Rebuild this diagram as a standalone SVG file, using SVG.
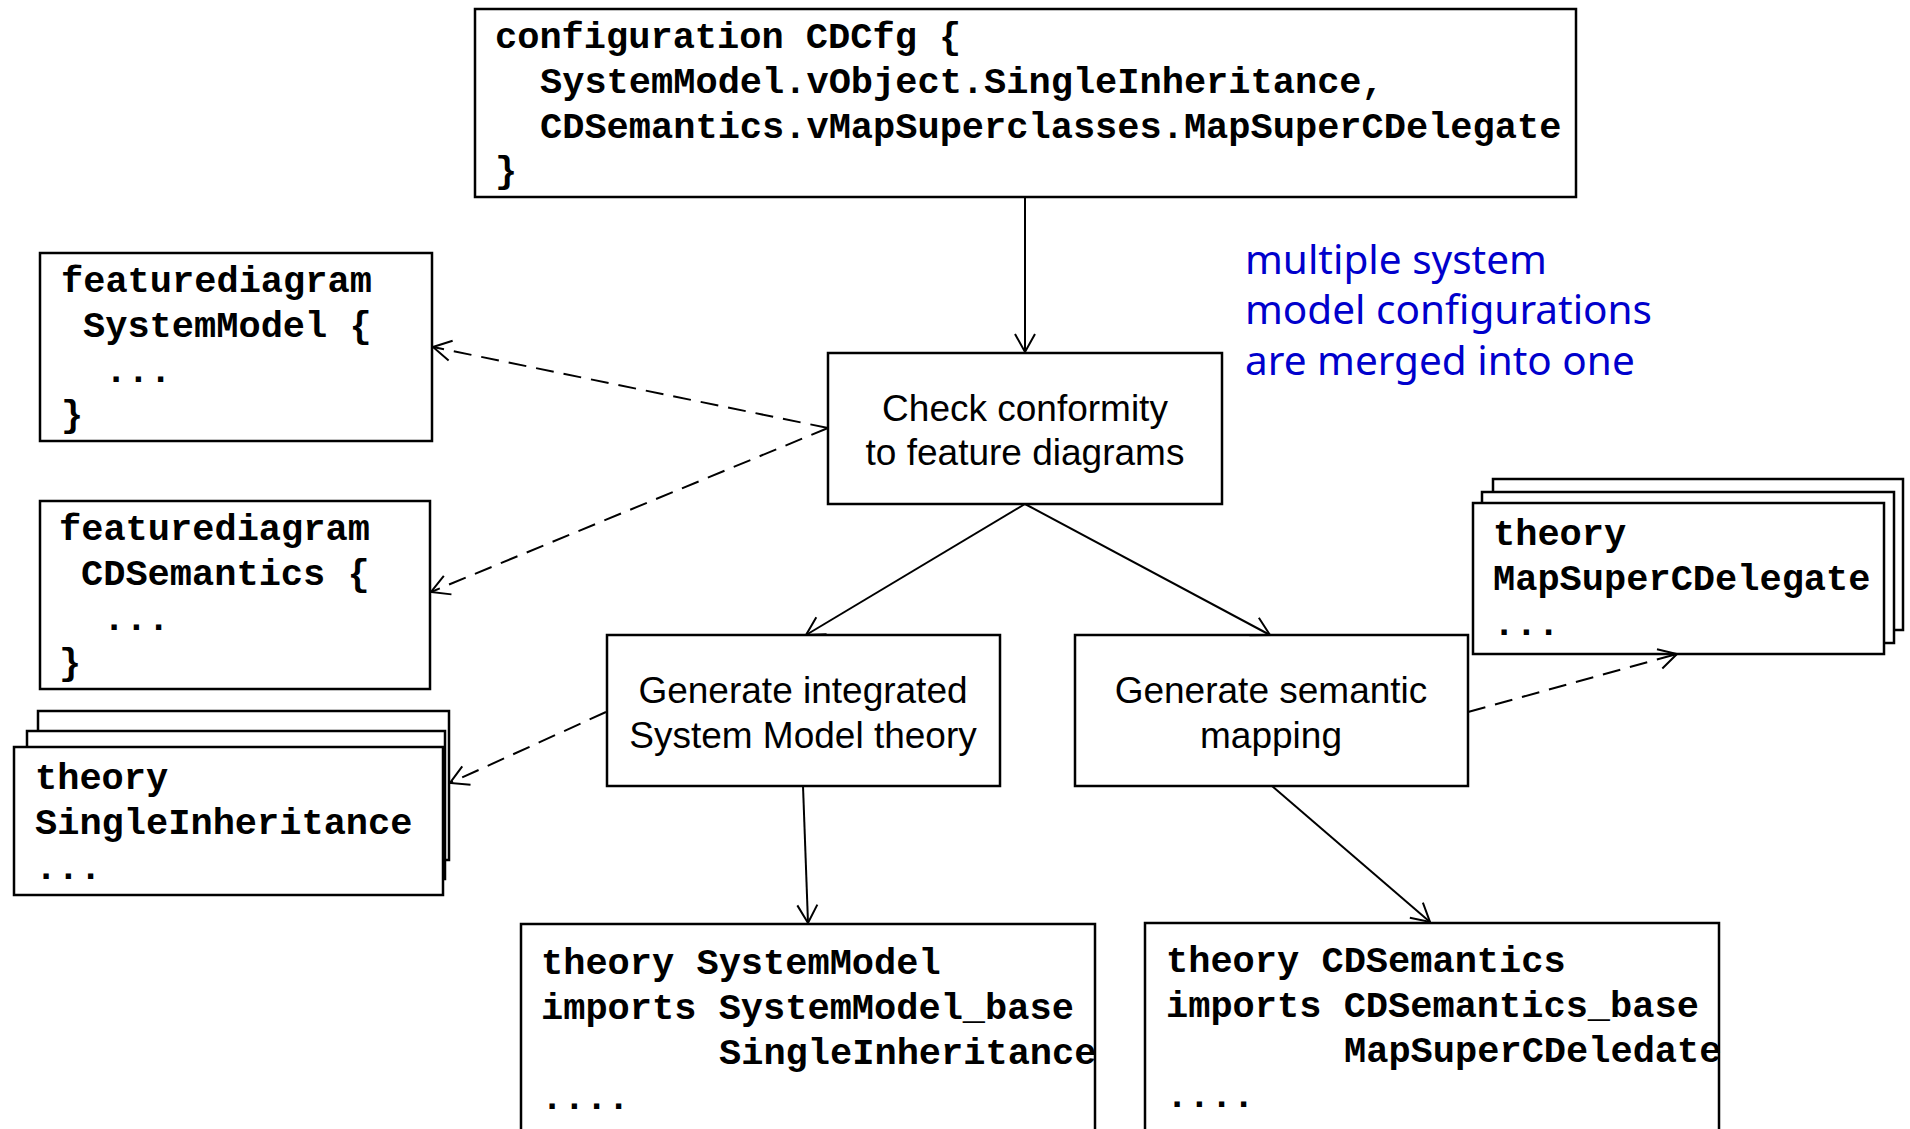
<svg xmlns="http://www.w3.org/2000/svg" width="1910" height="1129" viewBox="0 0 1910 1129">
<defs>
<style>
.box{fill:#fff;stroke:#000;stroke-width:2.5}
.mono{font-family:"Liberation Mono","Courier New",monospace;font-weight:bold;font-size:37px;fill:#000;white-space:pre}
.sans{font-family:"Liberation Sans",Arial,sans-serif;font-size:37px;fill:#000;text-anchor:middle}
.note{font-family:"Comic Sans MS","Noto Sans",sans-serif;font-size:40.5px;fill:#0000cc}
.conn{fill:none;stroke:#000;stroke-width:2}
.dash{stroke-dasharray:18 10}
</style>
<marker id="arr" markerUnits="userSpaceOnUse" markerWidth="24" markerHeight="24" viewBox="-20 -12 24 24" refX="0" refY="0" orient="auto">
<path d="M -18 -10 L 0 0 L -18 10" fill="none" stroke="#000" stroke-width="2" stroke-dasharray="none"/>
</marker>
</defs>
<rect width="1910" height="1129" fill="#fff"/>

<g id="config">
<rect class="box" x="475" y="9" width="1101" height="188"/>
<text class="mono" x="495" y="48">configuration CDCfg {</text>
<text class="mono" x="540" y="93">SystemModel.vObject.SingleInheritance,</text>
<text class="mono" x="540" y="138">CDSemantics.vMapSuperclasses.MapSuperCDelegate</text>
<text class="mono" x="495" y="182">}</text>
</g>

<g id="fd-systemmodel">
<rect class="box" x="40" y="253" width="392" height="188"/>
<text class="mono" x="61" y="292">featurediagram</text>
<text class="mono" x="83" y="337">SystemModel {</text>
<text class="mono" x="105" y="382">...</text>
<text class="mono" x="61" y="426">}</text>
</g>

<g id="fd-cdsemantics">
<rect class="box" x="40" y="501" width="390" height="188"/>
<text class="mono" x="59" y="540">featurediagram</text>
<text class="mono" x="81" y="585">CDSemantics {</text>
<text class="mono" x="103" y="630">...</text>
<text class="mono" x="59" y="674">}</text>
</g>

<g id="th-singleinheritance">
<rect class="box" x="38" y="711" width="411" height="149"/>
<rect class="box" x="27" y="731" width="418" height="148"/>
<rect class="box" x="14" y="747" width="429" height="148"/>
<text class="mono" x="35" y="789">theory</text>
<text class="mono" x="35" y="834">SingleInheritance</text>
<text class="mono" x="35" y="879">...</text>
</g>

<g id="check">
<rect class="box" x="828" y="353" width="394" height="151"/>
<text class="sans" x="1025" y="421">Check conformity</text>
<text class="sans" x="1025" y="465">to feature diagrams</text>
</g>

<g id="note">
<text class="note" x="1245" y="274">multiple system</text>
<text class="note" x="1245" y="324">model configurations</text>
<text class="note" x="1245" y="375">are merged into one</text>
</g>

<g id="th-mapsuper">
<rect class="box" x="1493" y="479" width="410" height="151"/>
<rect class="box" x="1482" y="492" width="412" height="151"/>
<rect class="box" x="1473" y="503" width="411" height="151"/>
<text class="mono" x="1493" y="545">theory</text>
<text class="mono" x="1493" y="590">MapSuperCDelegate</text>
<text class="mono" x="1493" y="635">...</text>
</g>

<g id="gen-integrated">
<rect class="box" x="607" y="635" width="393" height="151"/>
<text class="sans" x="803" y="703">Generate integrated</text>
<text class="sans" x="803" y="748">System Model theory</text>
</g>

<g id="gen-semantic">
<rect class="box" x="1075" y="635" width="393" height="151"/>
<text class="sans" x="1271" y="703">Generate semantic</text>
<text class="sans" x="1271" y="748">mapping</text>
</g>

<g id="th-systemmodel">
<rect class="box" x="521" y="924" width="574" height="230"/>
<text class="mono" x="541" y="974">theory SystemModel</text>
<text class="mono" x="541" y="1019">imports SystemModel_base</text>
<text class="mono" x="719" y="1064">SingleInheritance</text>
<text class="mono" x="541" y="1109">....</text>
</g>

<g id="th-cdsemantics">
<rect class="box" x="1145" y="923" width="574" height="230"/>
<text class="mono" x="1166" y="972">theory CDSemantics</text>
<text class="mono" x="1166" y="1017">imports CDSemantics_base</text>
<text class="mono" x="1344" y="1062">MapSuperCDeledate</text>
<text class="mono" x="1166" y="1107">....</text>
</g>

<g id="connectors">
<path class="conn" d="M 1025 198 L 1025 352" marker-end="url(#arr)"/>
<path class="conn" d="M 1025 504 L 806 635" marker-end="url(#arr)"/>
<path class="conn" d="M 1025 504 L 1270 635" marker-end="url(#arr)"/>
<path class="conn" d="M 803 786 L 808 923" marker-end="url(#arr)"/>
<path class="conn" d="M 1272 786 L 1430 922" marker-end="url(#arr)"/>
<path class="conn dash" d="M 828 428 L 433 347" marker-end="url(#arr)"/>
<path class="conn dash" d="M 828 428 L 431 592" marker-end="url(#arr)"/>
<path class="conn dash" d="M 606 712 L 450 783" marker-end="url(#arr)"/>
<path class="conn dash" d="M 1468 712 L 1677 654" marker-end="url(#arr)"/>
</g>
</svg>
